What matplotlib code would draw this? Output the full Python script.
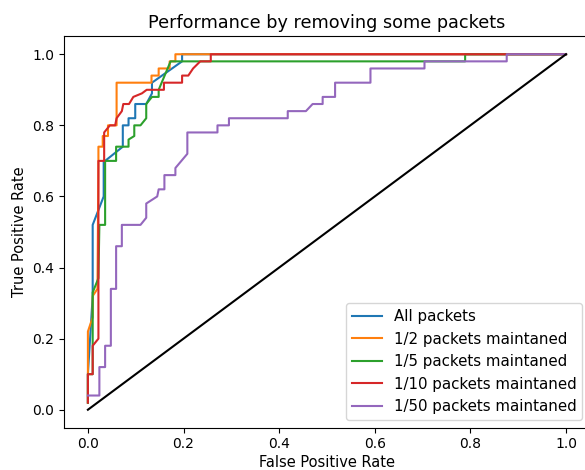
import matplotlib
matplotlib.use("Agg")
import matplotlib.pyplot as plt

# ROC points
fpr_all = [0, 0, 0.01, 0.01, 0.033, 0.033, 0.036, 0.073, 0.073, 0.085, 0.085, 0.099, 0.099, 0.122, 0.134, 0.134, 0.197, 0.197, 1]
tpr_all = [0.02, 0.10, 0.32, 0.52, 0.60, 0.70, 0.70, 0.74, 0.80, 0.80, 0.82, 0.82, 0.86, 0.86, 0.89, 0.92, 0.98, 1.0, 1]

fpr_half = [0, 0, 0.01, 0.01, 0.02, 0.022, 0.022, 0.031, 0.031, 0.042, 0.042, 0.06, 0.06, 0.133, 0.133, 0.148, 0.148, 0.171, 0.171, 0.183, 0.183, 1]
tpr_half = [0.02, 0.22, 0.26, 0.32, 0.34, 0.70, 0.74, 0.74, 0.77, 0.77, 0.80, 0.80, 0.92, 0.92, 0.94, 0.94, 0.96, 0.96, 0.98, 0.98, 1.0, 1]

fpr_fifth = [0, 0, 0.01, 0.01, 0.022, 0.024, 0.036, 0.036, 0.059, 0.059, 0.085, 0.085, 0.097, 0.097, 0.11, 0.122, 0.122, 0.134, 0.148, 0.148, 0.173, 0.789, 0.789, 1]
tpr_fifth = [0.02, 0.10, 0.10, 0.33, 0.37, 0.52, 0.52, 0.70, 0.70, 0.74, 0.74, 0.76, 0.77, 0.80, 0.80, 0.82, 0.86, 0.88, 0.88, 0.90, 0.98, 0.98, 1.0, 1]

fpr_tenth = [0, 0, 0.01, 0.01, 0.022, 0.022, 0.034, 0.034, 0.046, 0.057, 0.06, 0.071, 0.074, 0.086, 0.095, 0.113, 0.123, 0.159, 0.159, 0.197, 0.197, 0.21, 0.22, 0.235, 0.257, 0.257, 1]
tpr_tenth = [0.02, 0.10, 0.10, 0.18, 0.20, 0.70, 0.70, 0.78, 0.80, 0.80, 0.82, 0.84, 0.86, 0.86, 0.88, 0.89, 0.90, 0.90, 0.92, 0.92, 0.94, 0.94, 0.96, 0.98, 0.98, 1.0, 1]

fpr_fiftieth = [0, 0.024, 0.024, 0.036, 0.036, 0.048, 0.048, 0.059, 0.059, 0.071, 0.071, 0.11, 0.122, 0.122, 0.145, 0.148, 0.16, 0.16, 0.183, 0.183, 0.208, 0.208, 0.271, 0.271, 0.295, 0.295, 0.418, 0.418, 0.456, 0.47, 0.491, 0.491, 0.517, 0.517, 0.591, 0.591, 0.704, 0.704, 0.876, 0.876, 1]
tpr_fiftieth = [0.04, 0.04, 0.12, 0.12, 0.18, 0.18, 0.34, 0.34, 0.46, 0.46, 0.52, 0.52, 0.54, 0.58, 0.60, 0.62, 0.62, 0.66, 0.66, 0.68, 0.72, 0.78, 0.78, 0.80, 0.80, 0.82, 0.82, 0.84, 0.84, 0.86, 0.86, 0.88, 0.88, 0.92, 0.92, 0.96, 0.96, 0.98, 0.98, 1.0, 1]

labels = ["All packets", "1/2 packets maintaned", "1/5 packets maintaned",
          "1/10 packets maintaned", "1/50 packets maintaned"]

fig = plt.figure(figsize=(5.85, 4.70), dpi=100)
ax = fig.add_axes([0.1094, 0.0904, 0.8990, 0.832])

ax.plot(fpr_all, tpr_all, label=labels[0])
ax.plot(fpr_half, tpr_half, label=labels[1])
ax.plot(fpr_fifth, tpr_fifth, label=labels[2])
ax.plot(fpr_tenth, tpr_tenth, label=labels[3])
ax.plot(fpr_fiftieth, tpr_fiftieth, label=labels[4])
ax.plot([0, 1], [0, 1], color="black")

ax.set_title("Performance by removing some packets", fontsize=12.7)
ax.set_xlabel("False Positive Rate", fontsize=10.5, labelpad=2.5)
ax.set_ylabel("True Positive Rate", fontsize=10.5)
ax.legend(loc="lower right", fontsize=10.8)

fig.savefig("out.png", dpi=100)
